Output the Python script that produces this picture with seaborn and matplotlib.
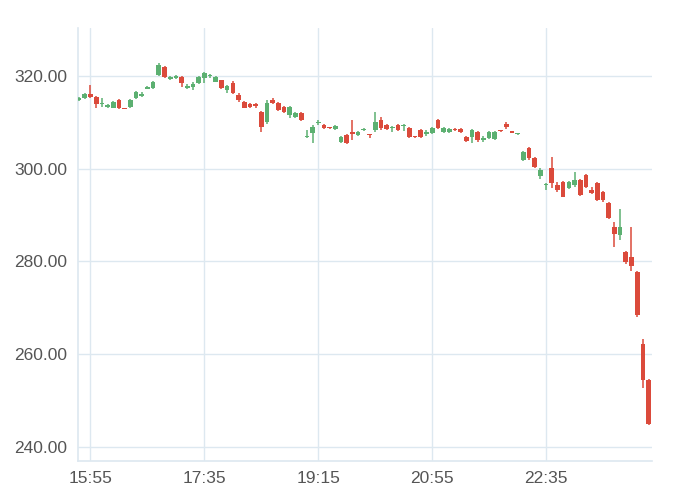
import pandas as pd
import numpy as np
import matplotlib
matplotlib.use("Agg")
import matplotlib.pyplot as plt
import matplotlib.dates as mdates
import seaborn as sns

# 5 minute candles, 15:45 -> 00:05
times = pd.date_range("2021-01-01 15:45", periods=101, freq="5min")

opens = [314.8, 315.3, 316.1, 315.5, 313.9, 313.4, 313.2, 314.8, 313.1, 313.3,
         315.3, 315.7, 317.3, 317.4, 320.2, 322.0, 319.4, 319.6, 319.8, 317.5,
         317.6, 318.5, 319.6, 319.9, 318.8, 319.1, 317.0, 318.5, 315.9, 314.4,
         313.9, 313.9, 312.2, 310.1, 314.8, 314.2, 313.3, 311.6, 311.2, 312.0,
         306.8, 307.7, 309.8, 309.4, 308.9, 308.6, 305.8, 307.3, 307.9, 307.3,
         308.3, 307.4, 308.4, 310.5, 309.4, 308.7, 309.4, 309.2, 308.8, 307.0,
         308.4, 307.5, 307.7, 310.5, 308.0, 307.9, 308.5, 308.6, 306.9, 306.9,
         308.0, 306.2, 306.7, 306.5, 308.3, 309.7, 308.0, 307.4, 301.9, 304.5,
         302.3, 298.4, 296.4, 300.2, 296.6, 297.2, 295.9, 296.5, 297.6, 298.7,
         295.4, 296.9, 295.0, 292.6, 287.5, 285.7, 282.1, 281.0, 277.8, 262.2,
         254.5]
highs = [315.5, 316.4, 318.0, 315.7, 315.3, 314.0, 314.6, 315.0, 313.2, 315.1,
         316.8, 316.5, 317.9, 319.0, 322.7, 322.2, 320.0, 320.2, 320.0, 318.3,
         318.8, 320.0, 320.9, 320.5, 320.0, 319.2, 318.1, 318.9, 316.4, 314.6,
         314.2, 314.2, 312.4, 314.8, 315.3, 314.4, 313.6, 313.5, 312.2, 312.2,
         308.3, 309.4, 310.6, 309.6, 309.0, 309.4, 307.1, 307.5, 310.5, 308.2,
         308.8, 307.6, 312.2, 311.2, 309.6, 309.3, 309.6, 309.6, 309.0, 307.1,
         308.6, 308.3, 309.0, 310.8, 309.0, 308.8, 308.7, 308.8, 307.1, 308.6,
         308.2, 307.1, 308.2, 308.1, 308.4, 310.1, 308.1, 307.7, 303.8, 304.7,
         302.5, 300.1, 297.0, 302.5, 297.2, 297.4, 297.4, 299.3, 297.8, 298.9,
         296.0, 297.2, 295.2, 292.8, 288.5, 291.3, 282.3, 287.5, 277.9, 263.3,
         254.6]
lows = [314.6, 315.1, 315.2, 313.1, 313.3, 313.0, 313.0, 312.9, 312.8, 313.1,
        315.1, 315.4, 317.1, 317.2, 320.0, 319.6, 319.2, 319.4, 317.7, 317.2,
        317.0, 318.3, 318.5, 319.6, 318.6, 317.3, 316.3, 316.1, 314.4, 313.0,
        313.2, 313.0, 308.0, 309.6, 314.0, 312.5, 312.0, 311.0, 311.0, 310.3,
        306.7, 305.5, 309.5, 308.6, 308.5, 308.4, 305.6, 305.4, 306.2, 307.1,
        308.1, 306.6, 307.9, 308.4, 308.3, 307.9, 308.2, 308.2, 306.6, 306.7,
        306.7, 307.0, 307.5, 308.6, 307.8, 307.7, 308.1, 307.8, 305.7, 305.6,
        305.8, 305.8, 306.5, 306.3, 308.0, 308.6, 307.7, 307.3, 301.7, 301.9,
        300.2, 297.8, 295.4, 295.9, 295.0, 293.8, 295.7, 296.1, 294.2, 295.9,
        294.6, 293.1, 292.9, 289.2, 283.1, 284.7, 279.5, 278.0, 268.0, 252.8,
        244.8]
closes = [315.3, 316.1, 315.4, 314.0, 314.2, 313.7, 314.4, 313.1, 312.9, 314.8,
          316.5, 316.1, 317.6, 318.7, 322.4, 319.8, 319.7, 319.9, 318.5, 317.8,
          318.3, 319.8, 320.6, 320.2, 319.8, 317.4, 317.8, 316.3, 314.8, 313.1,
          313.4, 313.6, 309.0, 314.2, 314.2, 312.7, 312.2, 313.3, 312.0, 310.5,
          307.1, 309.0, 310.1, 308.8, 308.7, 309.2, 306.9, 305.6, 307.5, 308.0,
          308.5, 307.2, 310.1, 308.8, 308.6, 309.0, 308.4, 309.4, 306.9, 306.8,
          306.9, 307.9, 308.8, 308.8, 308.8, 308.6, 308.3, 308.0, 305.9, 308.4,
          306.2, 306.6, 308.0, 307.9, 308.1, 309.1, 307.8, 307.5, 303.6, 302.3,
          300.4, 299.7, 296.7, 296.9, 295.4, 294.0, 297.2, 297.6, 294.4, 296.1,
          294.8, 293.3, 293.3, 289.4, 285.9, 287.5, 279.9, 279.1, 268.5, 254.5,
          245.0]

tick_labels = ["15:55", "17:35", "19:15", "20:55", "22:35"]
y_ticks = [240, 260, 280, 300, 320]

df = pd.DataFrame({"time": times, "open": opens, "high": highs, "low": lows, "close": closes})
df["x"] = mdates.date2num(df["time"])
df["up"] = df["close"] >= df["open"]

green = "#5cb071"
red = "#db4a3b"
grid_c = "#dde8f0"

sns.set_theme(style="whitegrid")
plt.rcParams["font.family"] = ["Liberation Sans", "DejaVu Sans"]

fig = plt.figure(figsize=(6.8, 4.96), dpi=100)
ax = fig.add_axes([78 / 680, 1 - 461 / 496, (652 - 78) / 680, (461 - 28) / 496])

colors = np.where(df["up"], green, red)
width = 4.1 / (24 * 60)  # candle body in days

ax.vlines(df["x"], df["low"], df["high"], colors=colors, linewidth=1.1, zorder=3)
body = (df["close"] - df["open"]).abs().clip(lower=0.3)
bottom = df[["open", "close"]].min(axis=1)
ax.bar(df["x"], body, bottom=bottom, width=width, color=colors, linewidth=0, zorder=4)

ax.set_ylim(236.98, 330.35)
start = df["x"].iloc[0]
step = df["x"].iloc[1] - df["x"].iloc[0]
ax.set_xlim(start - step * 0.19, df["x"].iloc[-1] + step * 0.6)

ax.set_yticks(y_ticks)
ax.set_yticklabels([f"{v:.2f}" for v in y_ticks])
tick_pos = mdates.date2num(pd.to_datetime(["2021-01-01 " + t for t in tick_labels]))
ax.set_xticks(tick_pos)
ax.set_xticklabels(tick_labels)

ax.grid(True, color=grid_c, linewidth=1.0)
ax.set_axisbelow(True)
ax.tick_params(axis="both", length=0, labelsize=12.5, labelcolor="#555555")
ax.tick_params(axis="y", pad=7.5)
ax.tick_params(axis="x", pad=7)
sns.despine(ax=ax, top=True, right=True)
ax.spines["left"].set_color(grid_c)
ax.spines["bottom"].set_color(grid_c)
ax.spines["left"].set_linewidth(1.2)
ax.spines["bottom"].set_linewidth(1.2)

fig.savefig("out.png", dpi=100)
